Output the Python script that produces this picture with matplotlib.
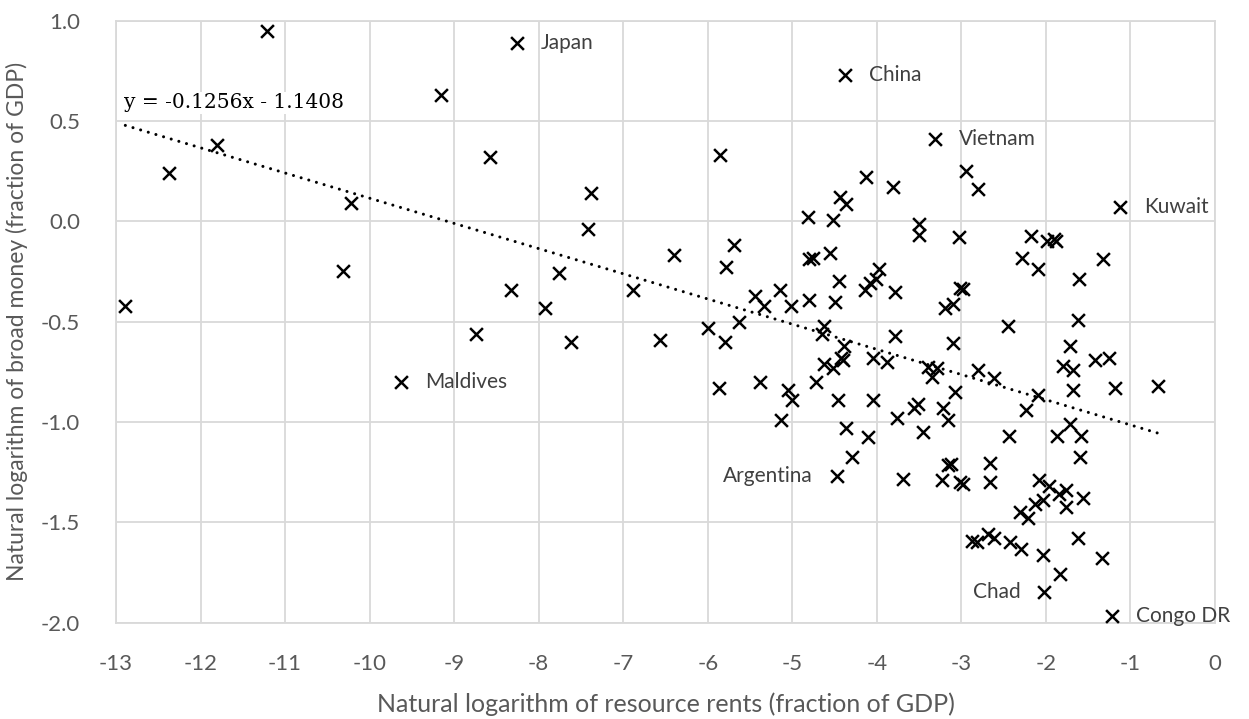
import matplotlib
matplotlib.use('Agg')
import matplotlib.pyplot as plt
import numpy as np

# ln(resource rents), ln(broad money)
rents = [-12.89, -12.37, -11.81, -11.22, -10.31, -10.22, -9.63, -9.16, -8.74, -8.58,
         -8.33, -8.26, -7.93, -7.76, -7.62, -7.38, -7.42, -6.89, -6.57, -6.40,
         -6.00, -5.87, -5.86, -5.80, -5.79, -5.69, -5.63, -5.44, -5.38, -5.33,
         -5.15, -5.13, -5.05, -5.02, -5.00, -4.82, -4.80, -4.75, -4.80, -4.72,
         -4.65, -4.62, -4.62, -4.56, -4.52, -4.52, -4.49, -4.46, -4.47, -4.45,
         -4.44, -4.42, -4.40, -4.39, -4.38, -4.36, -4.36, -4.30, -4.14, -4.13,
         -4.10, -4.08, -4.05, -4.04, -4.01, -3.98, -3.88, -3.81, -3.79, -3.79,
         -3.76, -3.69, -3.56, -3.51, -3.50, -3.50, -3.45, -3.39, -3.35, -3.31,
         -3.29, -3.23, -3.22, -3.20, -3.16, -3.16, -3.12, -3.10, -3.10, -3.08,
         -3.03, -3.02, -3.02, -2.98, -2.98, -2.95, -2.88, -2.82, -2.80, -2.80,
         -2.69, -2.66, -2.66, -2.62, -2.61, -2.45, -2.44, -2.43, -2.31, -2.30,
         -2.28, -2.24, -2.21, -2.18, -2.13, -2.09, -2.09, -2.08, -2.04, -2.04,
         -2.02, -1.99, -1.96, -1.91, -1.88, -1.87, -1.84, -1.83, -1.80, -1.76,
         -1.76, -1.71, -1.71, -1.68, -1.68, -1.62, -1.61, -1.62, -1.60, -1.59,
         -1.56, -1.42, -1.34, -1.33, -1.26, -1.22, -1.18, -1.12, -0.68]
money = [-0.42, 0.24, 0.38, 0.95, -0.25, 0.09, -0.80, 0.63, -0.56, 0.32,
         -0.34, 0.89, -0.43, -0.26, -0.60, 0.14, -0.04, -0.34, -0.59, -0.17,
         -0.53, -0.83, 0.33, -0.60, -0.23, -0.12, -0.50, -0.37, -0.80, -0.42,
         -0.34, -0.99, -0.84, -0.42, -0.89, 0.02, -0.19, -0.185, -0.39, -0.80,
         -0.56, -0.52, -0.71, -0.16, 0.005, -0.73, -0.40, -0.89, -1.27, -0.30,
         0.12, -0.68, -0.69, -0.62, 0.73, 0.085, -1.03, -1.175, -0.34, 0.22,
         -1.075, -0.31, -0.89, -0.68, -0.29, -0.24, -0.70, 0.17, -0.35, -0.57,
         -0.98, -1.285, -0.93, -0.91, -0.015, -0.07, -1.05, -0.725, -0.775, 0.41,
         -0.73, -1.29, -0.93, -0.43, -0.99, -1.215, -1.21, -0.41, -0.605, -0.85,
         -0.08, -0.33, -1.30, -0.335, -1.31, 0.25, -1.595, -1.60, 0.16, -0.74,
         -1.557, -1.205, -1.30, -1.577, -0.78, -0.52, -1.07, -1.60, -1.45, -1.632,
         -0.185, -0.94, -1.48, -0.075, -1.41, -0.24, -0.867, -1.288, -1.387, -1.662,
         -1.85, -0.10, -1.32, -0.086, -0.10, -1.07, -1.36, -1.76, -0.72, -1.34,
         -1.425, -0.62, -1.01, -0.74, -0.84, -0.49, -0.29, -1.58, -1.175, -1.07,
         -1.38, -0.69, -1.68, -0.19, -0.68, -1.97, -0.83, 0.07, -0.82]

# labelled countries
names = ['Japan', 'China', 'Vietnam', 'Kuwait', 'Maldives', 'Argentina', 'Chad', 'Congo DR']
name_x = [-8.26, -4.38, -3.31, -1.12, -9.63, -4.47, -2.02, -1.22]
name_y = [0.89, 0.73, 0.41, 0.07, -0.80, -1.27, -1.85, -1.97]
name_side = ['r', 'r', 'r', 'r', 'r', 'l', 'l', 'r']

slope = -0.1256
intercept = -1.1408

plt.rcParams['axes.unicode_minus'] = False
font = 'Lato'
grey = '#595959'

fig = plt.figure(figsize=(12.49, 7.19), dpi=100)
ax = fig.add_axes([0.0929, 0.1342, 0.8799, 0.837])

ax.scatter(rents, money, marker='x', s=85, c='black', linewidths=1.8, zorder=3)

xs = np.array([min(rents), max(rents)])
ax.plot(xs, slope * xs + intercept, color='black', lw=2.2,
        linestyle=(0, (0.01, 2.6)), dash_capstyle='round', zorder=2)

ax.text(-12.9, 0.59, 'y = -0.1256x - 1.1408', family='DejaVu Serif', fontsize=14.5,
        va='center', ha='left', color='black',
        bbox=dict(facecolor='white', edgecolor='none', pad=1), zorder=2.5)

for nm, nx, ny, side in zip(names, name_x, name_y, name_side):
    if side == 'r':
        ax.annotate(nm, (nx, ny), xytext=(24, 0), textcoords='offset pixels',
                    ha='left', va='center', fontsize=15, color='#404040', family=font)
    else:
        ax.annotate(nm, (nx, ny), xytext=(-24, 0), textcoords='offset pixels',
                    ha='right', va='center', fontsize=15, color='#404040', family=font)

ax.set_xlim(-13, 0)
ax.set_ylim(-2, 1)
ax.set_xticks(range(-13, 1))
ax.set_yticks(np.arange(-2, 1.01, 0.5))
ax.set_yticklabels(['%.1f' % v for v in np.arange(-2, 1.01, 0.5)])
ax.grid(True, color='#d9d9d9', lw=1.3)
ax.set_axisbelow(True)
for s in ax.spines.values():
    s.set_color('#d9d9d9')
    s.set_linewidth(1.3)
ax.tick_params(axis='x', length=0, pad=23, labelsize=16, labelcolor=grey)
ax.tick_params(axis='y', length=0, pad=26, labelsize=16, labelcolor=grey)
for lab in ax.get_xticklabels() + ax.get_yticklabels():
    lab.set_family(font)

ax.set_xlabel('Natural logarithm of resource rents (fraction of GDP)', fontsize=18,
              color=grey, family=font, labelpad=13)
ax.set_ylabel('Natural logarithm of broad money (fraction of GDP)', fontsize=16.5,
              color=grey, family=font, labelpad=9)

fig.savefig('out.png', dpi=100)
